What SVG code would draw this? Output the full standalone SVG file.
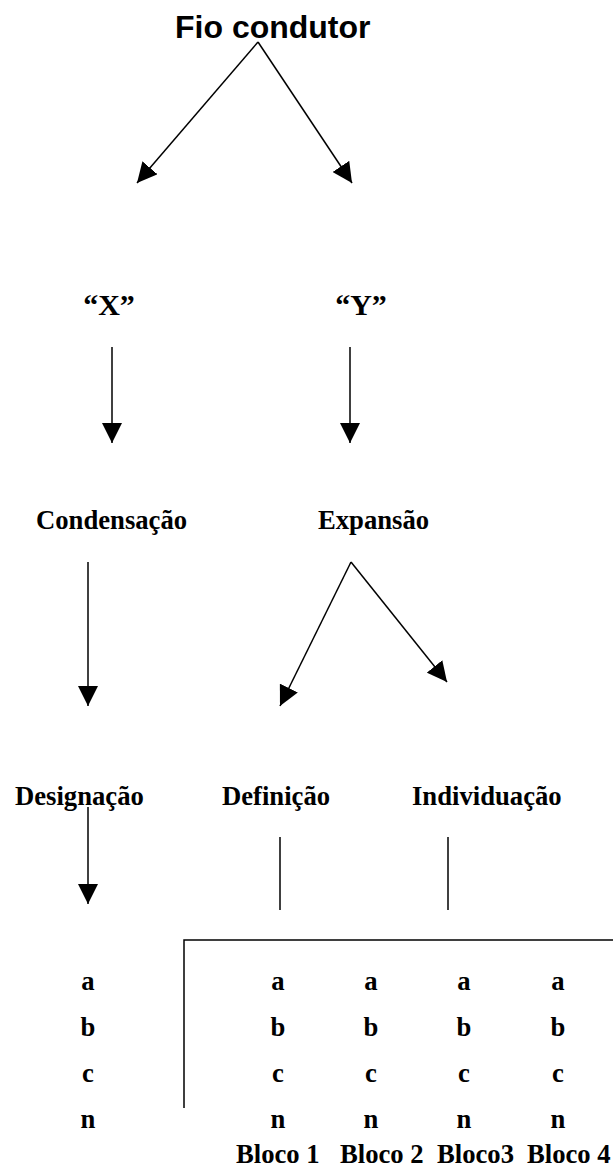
<svg xmlns="http://www.w3.org/2000/svg" width="613" height="1175" viewBox="0 0 613 1175">
<style>
.t{font-family:"Liberation Serif","Times New Roman",serif;font-weight:bold;font-size:26.67px;fill:#000}
.q{font-size:30px}
.s{font-family:"Liberation Sans",Arial,sans-serif;font-weight:bold;font-size:32px;fill:#000}
.c{text-anchor:middle}
.ln{stroke:#000;stroke-width:1.5;fill:none}
</style>
<defs>
<marker id="ah" viewBox="0 0 20 20" refX="20" refY="10" markerWidth="20" markerHeight="20" markerUnits="userSpaceOnUse" orient="auto">
<path d="M0,0 L20,10 L0,20 z" fill="#000"/>
</marker>
</defs>
<rect width="613" height="1175" fill="#fff"/>
<g id="fio"><text class="s" x="175" y="38">Fio condutor</text></g>
<g id="x"><text class="t q c" x="109" y="315">“X”</text></g>
<g id="y"><text class="t q c" x="361" y="315">“Y”</text></g>
<g id="condensacao"><text class="t" x="36" y="529">Condensação</text></g>
<g id="expansao"><text class="t" x="318" y="529">Expansão</text></g>
<g id="designacao"><text class="t" x="15" y="805">Designação</text></g>
<g id="definicao"><text class="t" x="222" y="805">Definição</text></g>
<g id="individuacao"><text class="t" x="412" y="805">Individuação</text></g>
<g id="lista-designacao">
<text class="t c" x="88" y="990">a</text>
<text class="t c" x="88" y="1036">b</text>
<text class="t c" x="88" y="1082">c</text>
<text class="t c" x="88" y="1128">n</text>
</g>
<g id="bloco1">
<text class="t c" x="278" y="990">a</text>
<text class="t c" x="278" y="1036">b</text>
<text class="t c" x="278" y="1082">c</text>
<text class="t c" x="278" y="1128">n</text>
<text class="t" x="236" y="1163">Bloco 1</text>
</g>
<g id="bloco2">
<text class="t c" x="371" y="990">a</text>
<text class="t c" x="371" y="1036">b</text>
<text class="t c" x="371" y="1082">c</text>
<text class="t c" x="371" y="1128">n</text>
<text class="t" x="340" y="1163">Bloco 2</text>
</g>
<g id="bloco3">
<text class="t c" x="464" y="990">a</text>
<text class="t c" x="464" y="1036">b</text>
<text class="t c" x="464" y="1082">c</text>
<text class="t c" x="464" y="1128">n</text>
<text class="t" x="437" y="1163">Bloco3</text>
</g>
<g id="bloco4">
<text class="t c" x="558" y="990">a</text>
<text class="t c" x="558" y="1036">b</text>
<text class="t c" x="558" y="1082">c</text>
<text class="t c" x="558" y="1128">n</text>
<text class="t" x="527" y="1163">Bloco 4</text>
</g>
<g id="connectors">
<line class="ln" x1="258" y1="42" x2="137" y2="183" marker-end="url(#ah)"/>
<line class="ln" x1="258" y1="42" x2="352" y2="183" marker-end="url(#ah)"/>
<line class="ln" x1="112" y1="347" x2="112" y2="443" marker-end="url(#ah)"/>
<line class="ln" x1="350" y1="347" x2="350" y2="443" marker-end="url(#ah)"/>
<line class="ln" x1="88" y1="562" x2="88" y2="706" marker-end="url(#ah)"/>
<line class="ln" x1="351" y1="562" x2="280" y2="706" marker-end="url(#ah)"/>
<line class="ln" x1="351" y1="562" x2="447" y2="682" marker-end="url(#ah)"/>
<line class="ln" x1="88" y1="807" x2="88" y2="904" marker-end="url(#ah)"/>
<line class="ln" x1="280" y1="837" x2="280" y2="910"/>
<line class="ln" x1="448" y1="837" x2="448" y2="910"/>
<polyline class="ln" points="184,1108 184,940 613,940"/>
</g>
</svg>
